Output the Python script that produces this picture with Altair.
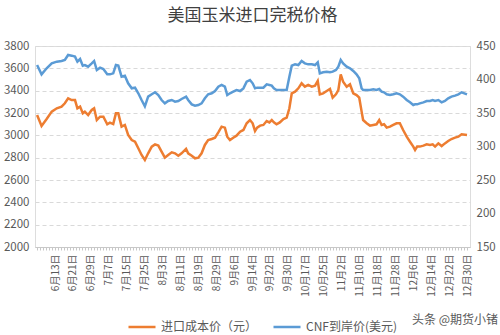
import json
import altair as alt
import pandas as pd

title_text = "美国玉米进口完税价格"
series_names = ["进口成本价（元）", "CNF到岸价(美元)"]
series_colors = ["#ED7D31", "#5B9BD5"]
watermark = "头条 @期货小锗"

tick_labels = ["6月13日", "6月21日", "6月29日", "7月7日", "7月15日", "7月25日", "8月3日",
               "8月11日", "8月19日", "8月29日", "9月6日", "9月14日", "9月22日", "9月30日",
               "10月17日", "10月25日", "11月2日", "11月10日", "11月18日", "11月28日",
               "12月6日", "12月14日", "12月22日", "12月30日"]
label_every = 6
n_categories = 145

# sample positions (trading-day index) and values
pos = [0, 1.5, 3.2, 4.9, 6.6, 8.2, 9.3, 10.4, 11.6, 12.7, 13.5, 14.4, 15.3, 16.0, 17.1,
       18.3, 19.1, 20.0, 21.1, 22.2, 23.5, 24.4, 25.5, 26.4, 27.2, 28.3, 29.4, 30.5, 31.7,
       32.8, 33.9, 35.0, 36.1,
       37.2, 38.4, 39.5, 40.6, 41.7, 42.8, 43.9, 45.1, 46.2, 47.3, 48.4, 49.9, 50.6, 51.8,
       52.9, 54.0, 55.1, 56.2, 57.3, 58.5, 59.6, 60.7, 61.8, 62.9, 63.7, 64.6, 65.7, 66.8,
       68.0, 69.1, 70.2,
       71.3, 72.2, 73.0, 73.7, 74.7, 75.8, 76.9, 77.8, 78.6, 79.3, 80.2, 81.3, 82.5, 83.6,
       84.5, 85.3, 86.4, 87.5, 88.6, 89.7, 90.8, 92.0, 93.1, 94.0, 94.7, 95.8, 97.0, 98.1,
       99.0, 100.1, 100.9, 101.7, 102.5, 103.7, 104.8, 105.9, 107.0, 107.9,
       108.7, 109.2, 110.4, 111.5, 112.6, 113.7, 114.6, 115.4, 116.2, 117.1, 118.2, 119.3,
       120.4, 121.5, 122.6, 123.8, 124.9, 126.0, 126.6, 127.3, 128.2, 129.4, 130.5, 131.6,
       132.5, 133.3, 134.4, 135.5, 136.6, 137.7, 138.8, 140.0, 141.1, 142.2, 144.0]

cost = [3182, 3084, 3146, 3212, 3242, 3257, 3287, 3331, 3316, 3316, 3242, 3257, 3197, 3212,
        3182, 3227, 3242, 3137, 3167, 3167, 3099, 3113, 3101, 3197, 3197, 3078, 3093, 3003,
        2958, 2943, 2884, 2824, 2779,
        2839, 2899, 2919, 2908, 2854, 2800, 2824, 2848, 2839, 2818, 2839, 2878, 2839, 2818,
        2794, 2800, 2839, 2914, 2958, 2967, 2979, 3027, 3078, 3069, 2988, 2958, 2979, 2997,
        3033, 3048, 3108,
        3137, 3108, 3039, 3069, 3087, 3093, 3128, 3116, 3137, 3116, 3099, 3116, 3146, 3158,
        3242, 3376, 3391, 3421, 3466, 3436, 3451, 3436, 3445, 3487, 3367, 3376, 3397, 3415,
        3337, 3367, 3406, 3546, 3481, 3436, 3457, 3376, 3361, 3337,
        3212, 3137, 3108, 3087, 3093, 3099, 3137, 3093, 3099, 3069, 3078, 3093, 3108, 3108,
        3048, 2988, 2943, 2899, 2869, 2899, 2899, 2908, 2919, 2914, 2919, 2899, 2928, 2904,
        2928, 2949, 2967, 2979, 2988, 3009, 3003]

cnf = [421.6, 407.7, 416.7, 424.1, 426.6, 427.6, 429.1, 436.6, 435.6, 434.1, 426.6, 430.6,
       420.7, 421.6, 419.2, 424.1, 427.6, 414.2, 417.7, 415.7, 407.7, 407.7, 409.2, 421.6,
       420.7, 404.2, 405.7, 394.3, 386.8, 387.8, 379.4, 369.4, 360.0,
       374.4, 377.9, 380.9, 376.9, 369.4, 364.4, 367.9, 369.4, 366.9, 367.9, 370.9, 374.4,
       369.4, 362.9, 360.9, 361.9, 364.4, 371.9, 377.9, 379.4, 382.8, 389.3, 391.8, 389.3,
       376.9, 379.4, 381.9, 384.3, 382.8, 386.8, 396.8,
       399.3, 394.3, 386.8, 387.8, 387.8, 387.8, 392.8, 391.8, 390.8, 386.8, 384.3, 384.3,
       384.3, 384.3, 404.2, 420.7, 422.6, 421.6, 427.6, 424.1, 422.6, 422.6, 421.6, 425.6,
       409.2, 410.7, 411.7, 410.7, 411.7, 414.2, 419.2, 429.1, 424.1, 419.2, 416.7, 412.7,
       407.7, 401.8,
       386.8, 384.3, 384.3, 384.3, 385.3, 384.3, 385.8, 381.9, 380.9, 377.9, 376.9, 377.9,
       379.4, 377.9, 374.4, 369.4, 365.9, 361.9, 362.9, 362.9, 364.4, 365.9, 367.9, 367.9,
       369.4, 367.9, 369.4, 365.9, 367.9, 371.9, 374.4, 375.9, 377.9, 380.9, 377.9]

left_ticks = list(range(2000, 3801, 200))
right_ticks = list(range(150, 451, 50))

df = pd.DataFrame({
    "pos": pos * 2,
    "value": cost + cnf,
    "series": [series_names[0]] * len(pos) + [series_names[1]] * len(pos),
})

FONT = "Noto Sans CJK SC"
label_js = json.dumps(tick_labels, ensure_ascii=False)
label_expr = (f"datum.value % {label_every} == 0 && datum.value > 0 ? "
              f"{label_js}[datum.value / {label_every} - 1] : ''")

x_enc = alt.X(
    "pos:Q",
    scale=alt.Scale(domain=[-0.7, n_categories], nice=False, zero=False),
    axis=alt.Axis(
        values=list(range(0, n_categories)),
        labelExpr=label_expr,
        labelAngle=-90,
        labelOverlap=False,
        labelFont=FONT,
        labelFontSize=10,
        labelColor="#595959",
        labelPadding=4,
        tickSize=3,
        tickColor="#c8c8c8",
        domainColor="#c8c8c8",
        grid=False,
        title=None,
    ),
)

color_enc = alt.Color(
    "series:N",
    scale=alt.Scale(domain=series_names, range=series_colors),
    legend=alt.Legend(
        title=None,
        orient="none",
        legendX=92,
        legendY=266,
        direction="horizontal",
        symbolType="stroke",
        symbolSize=730,
        symbolStrokeWidth=2.5,
        labelFontSize=12,
        labelColor="#595959",
        labelFont=FONT,
        columnPadding=10,
    ),
)

base = alt.Chart(df)

cost_line = base.transform_filter(alt.datum.series == series_names[0]).mark_line(
    strokeWidth=2.5
).encode(
    x=x_enc,
    y=alt.Y(
        "value:Q",
        scale=alt.Scale(domain=[2000, 3800], nice=False, zero=False),
        axis=alt.Axis(
            values=left_ticks,
            format="d",
            grid=True,
            gridDash=[4, 3],
            gridColor="#d9d9d9",
            domain=False,
            ticks=False,
            labelFont=FONT,
            labelFontSize=11.5,
            labelColor="#595959",
            labelPadding=6,
            title=None,
        ),
    ),
    color=color_enc,
)

cnf_line = base.transform_filter(alt.datum.series == series_names[1]).mark_line(
    strokeWidth=2.5
).encode(
    x=x_enc,
    y=alt.Y(
        "value:Q",
        scale=alt.Scale(domain=[150, 450], nice=False, zero=False),
        axis=alt.Axis(
            orient="right",
            values=right_ticks,
            format="d",
            grid=False,
            domain=False,
            ticks=False,
            labelFont=FONT,
            labelFontSize=11.5,
            labelColor="#595959",
            labelPadding=6,
            title=None,
        ),
    ),
    color=color_enc,
)

mark_text = alt.Chart(pd.DataFrame({"t": [watermark]})).mark_text(
    fontSize=12, color="#5a5a5a", font=FONT, align="center"
).encode(x=alt.value(420), y=alt.value(274), text="t:N")

chart = alt.layer(cost_line, cnf_line, mark_text).resolve_scale(y="independent").properties(
    width=435,
    height=201,
    autosize=alt.AutoSizeParams(type="none"),
    padding={"left": 35, "top": 46, "right": 30, "bottom": 88},
    background="white",
    title=alt.TitleParams(title_text, fontSize=17, font=FONT, fontWeight="normal",
                          color="#404040", offset=15, anchor="middle"),
).configure_view(stroke=None).configure(font=FONT)

chart.save("out.html", embed_options={"renderer": "svg", "actions": False})
